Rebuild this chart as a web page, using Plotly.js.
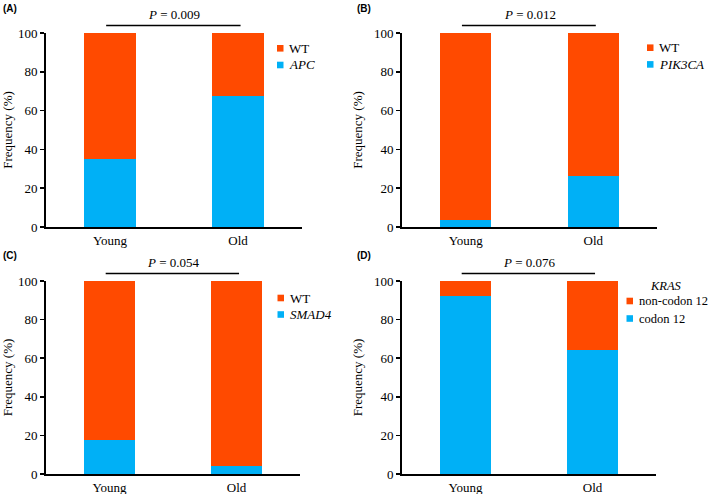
<!DOCTYPE html>
<html>
<head>
<meta charset="utf-8">
<script src="https://cdn.plot.ly/plotly-3.0.1.min.js"></script>
<style>html,body{margin:0;padding:0;background:#fff}#chart{width:709px;height:494px}</style>
</head>
<body>
<div id="chart"></div>
<script>
// ---- data ----
var categories = ['Young', 'Old'];

var apcMut = [35.0, 67.5];
var apcWT  = [65.0, 32.5];

var pik3caMut = [3.4, 26.4];
var pik3caWT  = [96.6, 73.6];

var smad4Mut = [17.6, 4.3];
var smad4WT  = [82.4, 95.7];

var krasCodon12    = [92.0, 64.2];
var krasNonCodon12 = [8.0, 35.8];

var panelLabels = ['(A)', '(B)', '(C)', '(D)'];
var pValues = ['0.009', '0.012', '0.054', '0.076'];
var mutNames = ['<i>APC</i>', '<i>PIK3CA</i>', '<i>SMAD4</i>', 'codon 12'];
var wtNames = ['WT', 'WT', 'WT', 'non-codon 12'];
var legendTitles = ['', '', '', '<i>KRAS</i>'];

// ---- styling ----
var W = 709, H = 494;
var RED = '#FF4A00', BLUE = '#00B0F6';
var serif = 'Liberation Serif';

function px(x) { return x / W; }
function py(y) { return 1 - y / H; }

var mutData = [apcMut, pik3caMut, smad4Mut, krasCodon12];
var wtData = [apcWT, pik3caWT, smad4WT, krasNonCodon12];

// panel boxes in pixels: [left, right, top, bottom]
var boxes = [[46, 302, 33, 227], [402, 657, 33, 227], [46, 300, 281, 474], [402, 656, 281, 474]];
// legend key: [square left x, first row centre y, row step, text gap, font size]
var keyPos = [[277, 48.3, 16.7, 10, 13], [647, 47.7, 16.7, 10, 13], [277.5, 298, 16.5, 10, 13], [626.5, 301, 17.5, 10, 12.5]];

var traces = [];
var layout = {
  width: W, height: H,
  margin: {l: 0, r: 0, t: 0, b: 0},
  paper_bgcolor: '#fff', plot_bgcolor: '#fff',
  barmode: 'stack',
  bargap: 0.6,
  showlegend: false,
  font: {family: serif, size: 13, color: '#000'},
  annotations: [], shapes: []
};

for (var i = 0; i < 4; i++) {
  var sfx = i === 0 ? '' : String(i + 1);
  var xa = 'x' + sfx, ya = 'y' + sfx;
  traces.push({type: 'bar', x: categories, y: mutData[i], name: mutNames[i],
    marker: {color: BLUE, line: {width: 0}}, xaxis: xa, yaxis: ya, hoverinfo: 'y'});
  traces.push({type: 'bar', x: categories, y: wtData[i], name: wtNames[i],
    marker: {color: RED, line: {width: 0}}, xaxis: xa, yaxis: ya, hoverinfo: 'y'});

  var b = boxes[i];
  layout['xaxis' + sfx] = {
    domain: [px(b[0]), px(b[1])], anchor: ya, range: [-0.5, 1.5],
    showline: true, linecolor: '#000', linewidth: 2, ticks: '', showgrid: false,
    zeroline: false, tickfont: {family: serif, size: 13, color: '#000'}, fixedrange: true
  };
  layout['yaxis' + sfx] = {
    domain: [py(b[3]), py(b[2])], anchor: xa, range: [0, 100], dtick: 20,
    showline: true, linecolor: '#000', linewidth: 2, ticks: 'outside', ticklen: 4,
    tickwidth: 1.5, tickcolor: '#000', showgrid: false, zeroline: false,
    tickfont: {family: serif, size: 13, color: '#000'},
    title: {text: 'Frequency (%)', font: {family: serif, size: 13, color: '#000'}, standoff: 8},
    fixedrange: true
  };

  // legend key (WT / gene), drawn as swatches + text
  var k = keyPos[i];
  var rows = [[wtNames[i], RED], [mutNames[i], BLUE]];
  for (var r = 0; r < 2; r++) {
    var cy = k[1] + r * k[2];
    layout.shapes.push({type: 'rect', xref: 'paper', yref: 'paper',
      x0: px(k[0]), x1: px(k[0] + 6.5), y0: py(cy + 3.3), y1: py(cy - 3.3),
      fillcolor: rows[r][1], line: {width: 0}});
    layout.annotations.push({xref: 'paper', yref: 'paper', x: px(k[0] + k[3]), y: py(cy),
      xanchor: 'left', yanchor: 'middle', text: rows[r][0], showarrow: false,
      font: {family: serif, size: k[4], color: '#000'}});
  }
  if (legendTitles[i]) {
    layout.annotations.push({xref: 'paper', yref: 'paper', x: px(666), y: py(285.5),
      xanchor: 'center', yanchor: 'middle', text: legendTitles[i], showarrow: false,
      font: {family: serif, size: 12.5, color: '#000'}});
  }

  // P-value bracket
  var lineY = b[2] - 7.5;
  layout.shapes.push({type: 'line', xref: xa, yref: 'paper', x0: -0.03, x1: 1.02,
    y0: py(lineY), y1: py(lineY), line: {color: '#000', width: 1.5}});
  layout.annotations.push({xref: xa, yref: 'paper', x: 0.5, y: py(lineY - 1.5), yanchor: 'bottom',
    text: '<i>P</i> = ' + pValues[i], showarrow: false, font: {family: serif, size: 13, color: '#000'}});

  // panel label
  layout.annotations.push({xref: 'paper', yref: 'paper', x: px(i % 2 === 0 ? 1 : 355),
    y: py(i < 2 ? 1 : 248), xanchor: 'left', yanchor: 'top', text: '<b>' + panelLabels[i] + '</b>',
    showarrow: false, font: {family: 'Liberation Sans', size: 10, color: '#000'}});
}

Plotly.newPlot('chart', traces, layout, {displayModeBar: false, staticPlot: true});
</script>
</body>
</html>
